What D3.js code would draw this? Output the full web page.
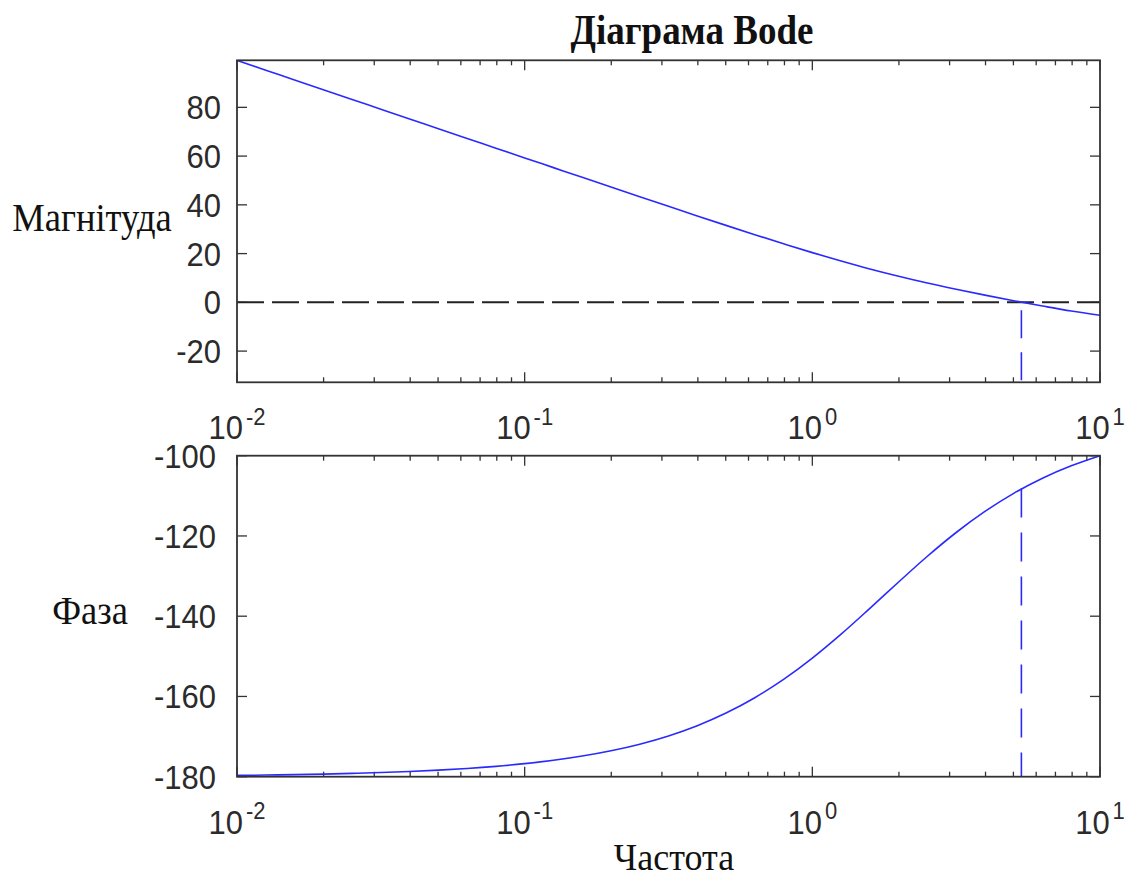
<!DOCTYPE html>
<html>
<head>
<meta charset="utf-8">
<script src="https://cdn.jsdelivr.net/npm/d3@7"></script>
<style>
  html, body { margin: 0; padding: 0; background: #fff; }
  svg { display: block; }
</style>
</head>
<body>
<svg id="chart" width="1129" height="879"></svg>
<script>
// Frequency samples (rad/s), ten per decade from 1e-2 to 1e1
const freqExp = [-2.0, -1.9, -1.8, -1.7, -1.6, -1.5, -1.4, -1.3, -1.2, -1.1,
                 -1.0, -0.9, -0.8, -0.7, -0.6, -0.5, -0.4, -0.3, -0.2, -0.1,
                  0.0,  0.1,  0.2,  0.3,  0.4,  0.5,  0.6,  0.7,  0.8,  0.9, 1.0];

// Magnitude (dB)
const magnitude = [99.25, 95.25, 91.25, 87.25, 83.25, 79.25, 75.25, 71.25, 67.25, 63.26,
                   59.26, 55.27, 51.28, 47.30, 43.33, 39.38, 35.46, 31.58, 27.77, 24.05,
                   20.40, 16.95, 13.70, 10.70, 7.90, 5.35, 2.95, 0.65, -1.50, -3.55, -5.30];

// Phase (degrees)
const phase = [-179.68, -179.59, -179.49, -179.35, -179.18, -178.97, -178.71, -178.37, -177.95, -177.42,
               -176.75, -175.92, -174.86, -173.54, -171.89, -169.83, -167.28, -164.13, -160.31, -155.75,
               -150.44, -144.47, -138.04, -131.47, -125.06, -119.14, -113.89, -109.38, -105.61, -102.52, -100.00];

// Gain crossover frequency and the phase there
const crossoverFreq = 5.33;
const crossoverPhase = -108.2;

// Axis ticks
const freqDecades = [-2, -1, 0, 1];
const magTicks = [-20, 0, 20, 40, 60, 80];
const phaseTicks = [-180, -160, -140, -120, -100];

const title = "Діаграма Bode";
const magLabel = "Магнітуда";
const phaseLabel = "Фаза";
const freqLabel = "Частота";

const svg = d3.select("#chart");
const left = 237, right = 1100;
const topPanel = { y0: 60.3, y1: 382.3, domain: [-32.8, 99.3] };
const botPanel = { y0: 455.7, y1: 776.7, domain: [-180, -100] };

const x = d3.scaleLog().domain([1e-2, 1e1]).range([left, right]);
const yMag = d3.scaleLinear().domain(topPanel.domain).range([topPanel.y1, topPanel.y0]);
const yPh = d3.scaleLinear().domain(botPanel.domain).range([botPanel.y1, botPanel.y0]);

const freqs = freqExp.map(e => Math.pow(10, e));
const minorFreqs = [];
for (let d = -2; d < 1; d++) for (let m = 2; m <= 9; m++) minorFreqs.push(m * Math.pow(10, d));

const axisColor = "#333";
const curveColor = "#2a2aff";
const sansFont = "'Liberation Sans', Arial, sans-serif";
const serifFont = "'Liberation Serif', 'Times New Roman', serif";

function stretchedText(g, px, py, str, opts) {
  return g.append("text")
    .attr("transform", `translate(${px},${py}) scale(1,${opts.sy || 1})`)
    .attr("font-family", opts.family)
    .attr("font-size", opts.size)
    .attr("font-weight", opts.weight || "normal")
    .attr("text-anchor", opts.anchor || "start")
    .attr("fill", opts.fill || "#222")
    .text(str);
}

function drawPanel(panel, y, ticks, labelRight, id) {
  const g = svg.append("g");
  const { y0, y1 } = panel;

  g.append("clipPath").attr("id", id)
    .append("rect").attr("x", left).attr("y", y0).attr("width", right - left).attr("height", y1 - y0);

  // minor and major frequency ticks on bottom and top edges
  const tk = g.append("g").attr("stroke", axisColor).attr("stroke-width", 1.3);
  minorFreqs.forEach(f => {
    tk.append("line").attr("x1", x(f)).attr("x2", x(f)).attr("y1", y1).attr("y2", y1 - 5);
    tk.append("line").attr("x1", x(f)).attr("x2", x(f)).attr("y1", y0).attr("y2", y0 + 5);
  });
  freqDecades.forEach(d => {
    const f = Math.pow(10, d);
    tk.append("line").attr("x1", x(f)).attr("x2", x(f)).attr("y1", y1).attr("y2", y1 - 10);
    tk.append("line").attr("x1", x(f)).attr("x2", x(f)).attr("y1", y0).attr("y2", y0 + 10);
  });
  ticks.forEach(v => {
    tk.append("line").attr("x1", left).attr("x2", left + 10).attr("y1", y(v)).attr("y2", y(v));
    tk.append("line").attr("x1", right).attr("x2", right - 10).attr("y1", y(v)).attr("y2", y(v));
  });

  // value labels
  ticks.forEach(v => {
    stretchedText(g, labelRight, y(v) + 12, String(v),
      { family: sansFont, size: 31, sy: 1.1, anchor: "end", fill: "#2b2b2b" });
  });

  // frequency labels 10^n
  freqDecades.forEach(d => {
    const t = stretchedText(g, x(Math.pow(10, d)), y1 + 57, "",
      { family: sansFont, size: 31, sy: 1.1, anchor: "middle", fill: "#2b2b2b" });
    t.append("tspan").text("10");
    t.append("tspan").attr("dx", 3).attr("dy", -13).attr("font-size", 22)
      .text(d === 0 ? "0" : (d > 0 ? String(d) : "-" + Math.abs(d)));
  });

  return g;
}

// Magnitude panel
const gTop = drawPanel(topPanel, yMag, magTicks, 221, "clipTop");
gTop.append("line")
  .attr("x1", left).attr("x2", right).attr("y1", yMag(0)).attr("y2", yMag(0))
  .attr("stroke", "#222").attr("stroke-width", 2).attr("stroke-dasharray", "27,8");
gTop.append("line")
  .attr("x1", x(crossoverFreq)).attr("x2", x(crossoverFreq))
  .attr("y1", yMag(0) + 8).attr("y2", topPanel.y1)
  .attr("stroke", curveColor).attr("stroke-width", 1.6).attr("stroke-dasharray", "28,14");
gTop.append("path")
  .datum(freqs.map((f, i) => [f, magnitude[i]]))
  .attr("clip-path", "url(#clipTop)")
  .attr("fill", "none").attr("stroke", curveColor).attr("stroke-width", 1.6)
  .attr("d", d3.line().x(d => x(d[0])).y(d => yMag(d[1])).curve(d3.curveMonotoneX));
gTop.append("rect")
  .attr("x", left).attr("y", topPanel.y0).attr("width", right - left).attr("height", topPanel.y1 - topPanel.y0)
  .attr("fill", "none").attr("stroke", axisColor).attr("stroke-width", 1.8);

// Phase panel
const gBot = drawPanel(botPanel, yPh, phaseTicks, 216, "clipBot");
gBot.append("line")
  .attr("x1", x(crossoverFreq)).attr("x2", x(crossoverFreq))
  .attr("y1", yPh(crossoverPhase)).attr("y2", botPanel.y1)
  .attr("stroke", curveColor).attr("stroke-width", 1.6).attr("stroke-dasharray", "29,15");
gBot.append("path")
  .datum(freqs.map((f, i) => [f, phase[i]]))
  .attr("fill", "none").attr("stroke", curveColor).attr("stroke-width", 1.6)
  .attr("d", d3.line().x(d => x(d[0])).y(d => yPh(d[1])).curve(d3.curveMonotoneX));
gBot.append("rect")
  .attr("x", left).attr("y", botPanel.y0).attr("width", right - left).attr("height", botPanel.y1 - botPanel.y0)
  .attr("fill", "none").attr("stroke", axisColor).attr("stroke-width", 1.8);

// Titles
stretchedText(svg, 692, 44, title, { family: serifFont, size: 37, sy: 1.12, weight: "bold", anchor: "middle", fill: "#111" });
stretchedText(svg, 92, 231, magLabel, { family: serifFont, size: 36.5, sy: 1.1, anchor: "middle", fill: "#111" });
stretchedText(svg, 90, 624, phaseLabel, { family: serifFont, size: 36.5, sy: 1.1, anchor: "middle", fill: "#111" });
stretchedText(svg, 674, 870, freqLabel, { family: serifFont, size: 36, sy: 1.08, anchor: "middle", fill: "#111" });
</script>
</body>
</html>
